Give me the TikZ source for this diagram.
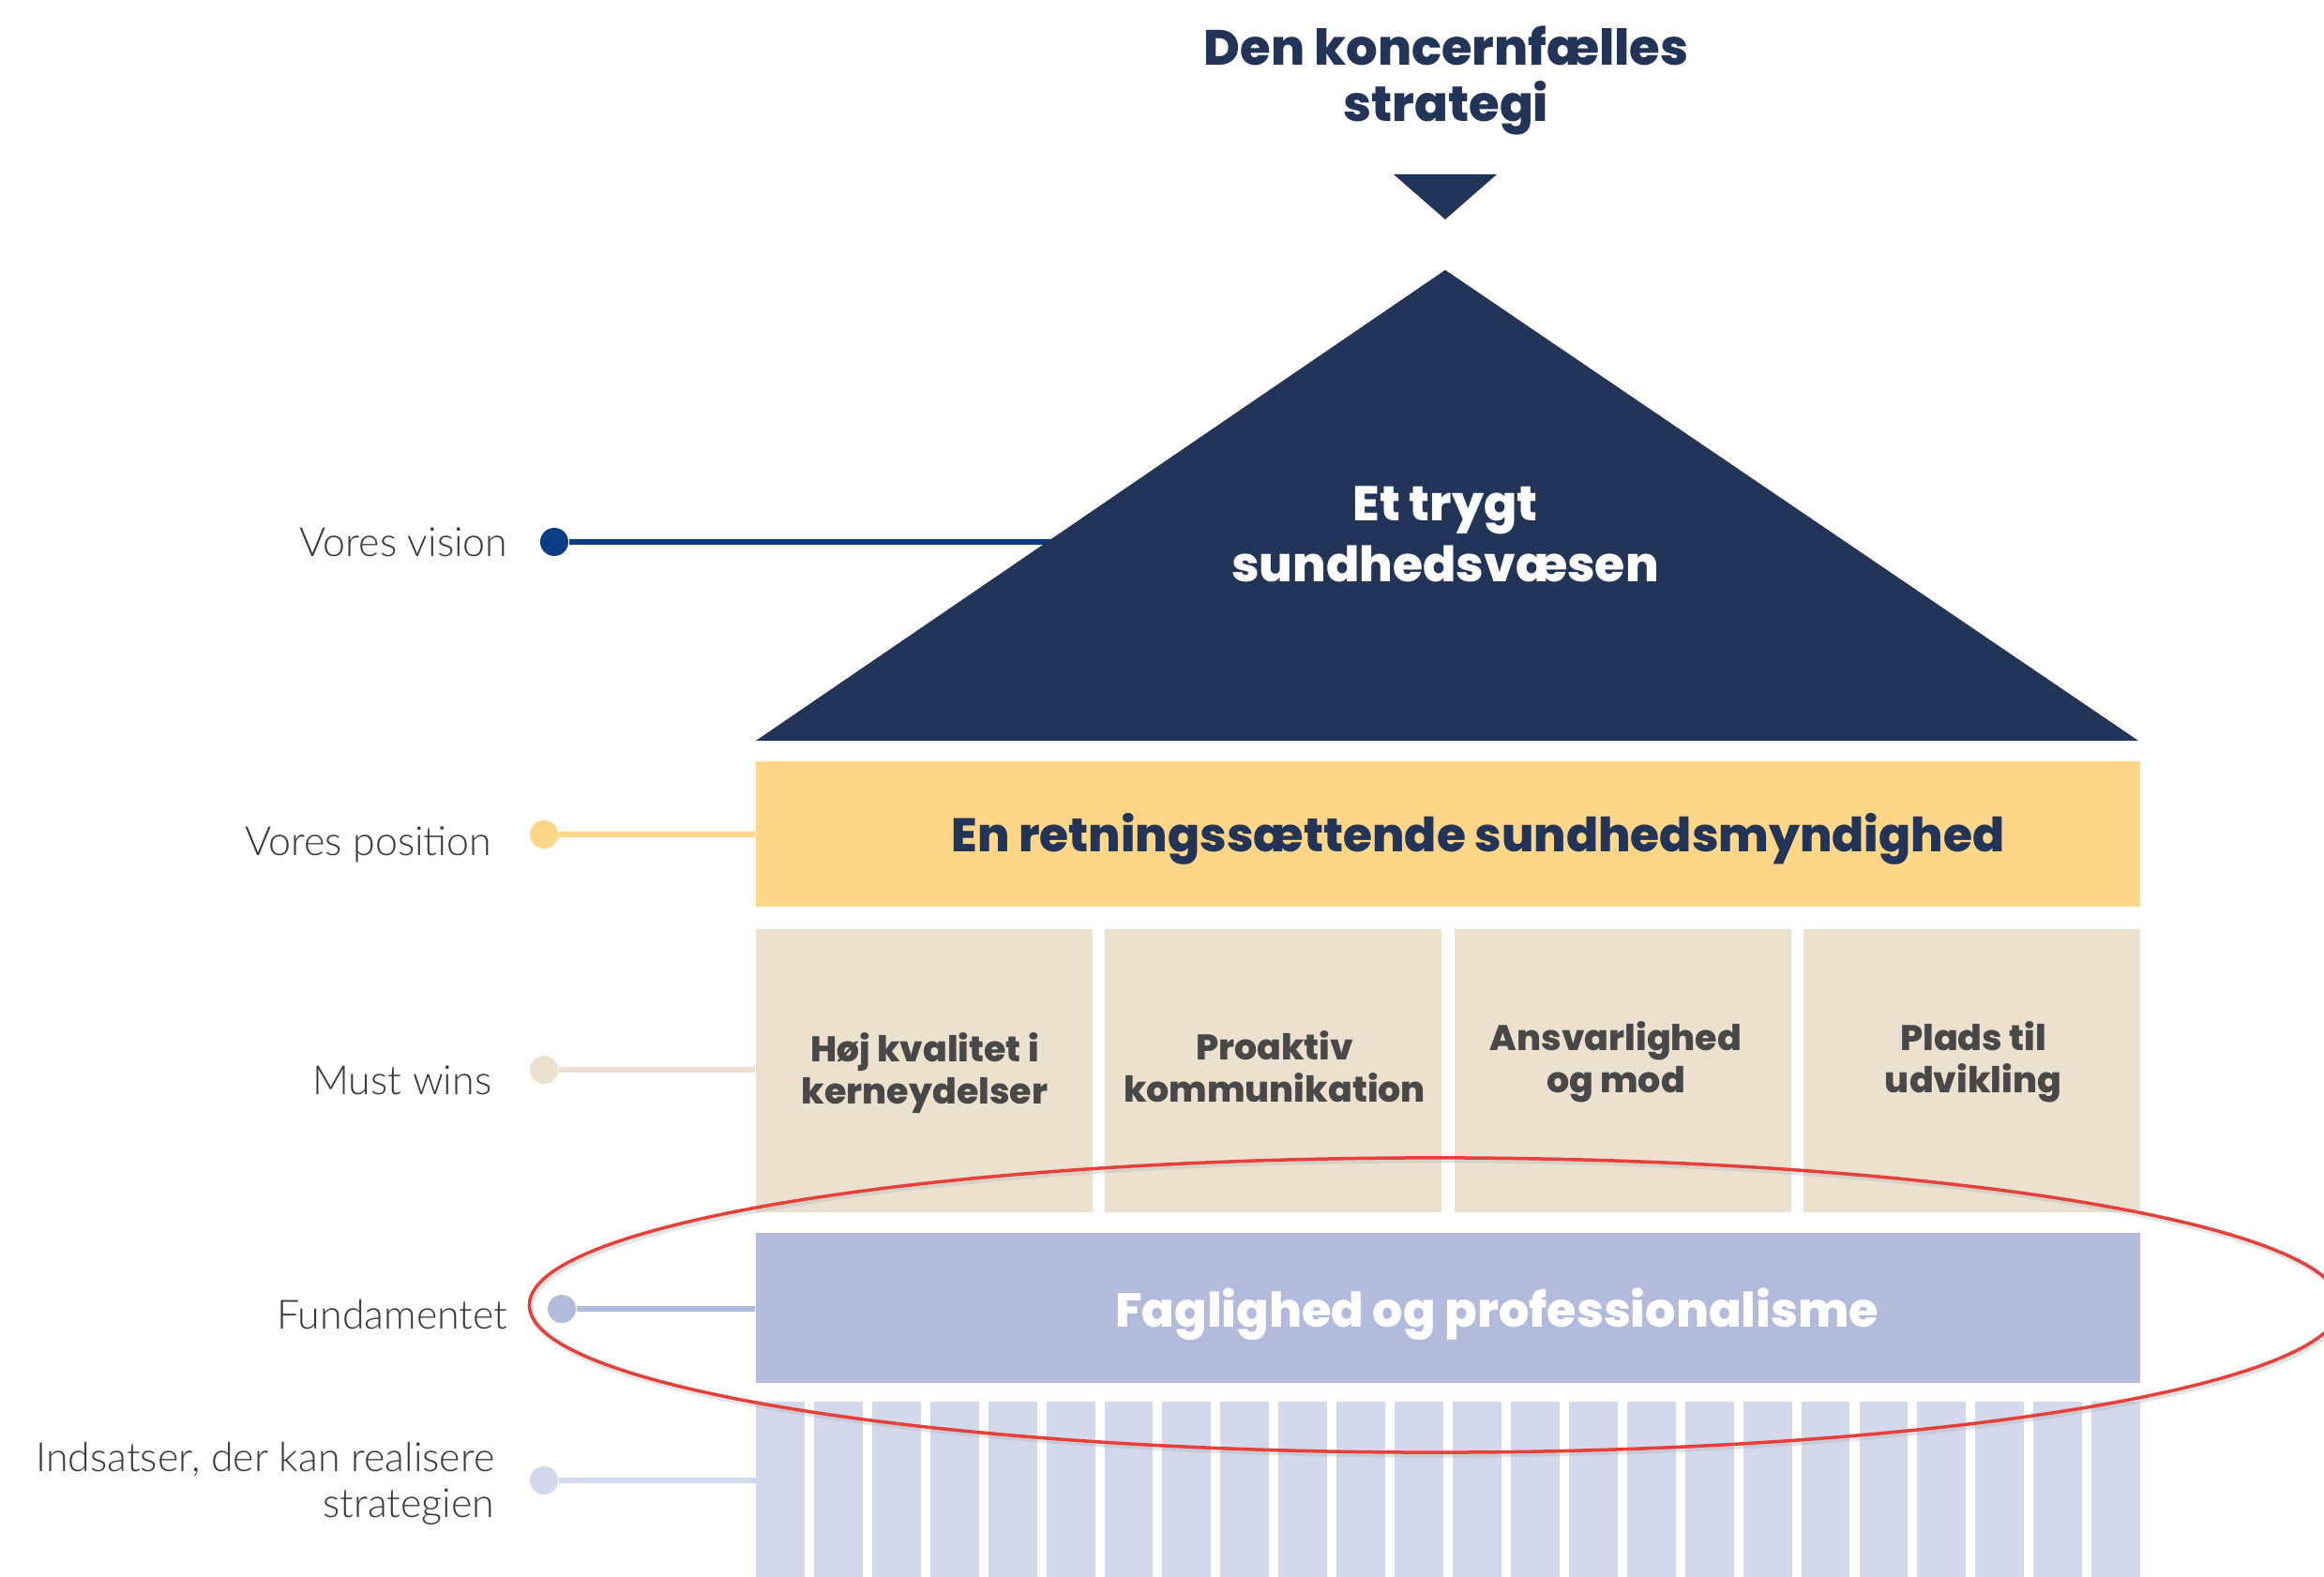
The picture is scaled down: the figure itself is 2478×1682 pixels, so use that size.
\documentclass[tikz,border=0pt]{standalone}
\usepackage{fontspec}
\newfontfamily\headfont{Poppins}[BoldFont={Poppins ExtraBold}]
\newfontfamily\labfont{Lato Light}
\definecolor{navy}{HTML}{233459}
\definecolor{visblue}{HTML}{0B3D86}
\definecolor{posyel}{HTML}{FDD688}
\definecolor{mustbg}{HTML}{EBE1CE}
\definecolor{fundbg}{HTML}{B2BBDB}
\definecolor{stripe}{HTML}{D3D8EA}
\definecolor{musttxt}{HTML}{484848}
\definecolor{labtxt}{HTML}{383838}
\definecolor{ellred}{HTML}{E5403A}
\tikzset{
  lab/.style={anchor=east, font=\labfont\fontsize{12.2}{14}\selectfont, text=labtxt, align=right, inner sep=0pt},
  dotnode/.style={circle, inner sep=0pt, minimum size=0.30cm},
  barbox/.style={rectangle, inner sep=0pt, minimum width=14.76cm},
  mustbox/.style={rectangle, fill=mustbg, inner sep=0pt, minimum width=3.585cm, minimum height=3.02cm},
  musttext/.style={align=center, inner sep=0pt, font=\headfont\bfseries\fontsize{10.8}{12.8}\selectfont, text=musttxt},
  conn/.style={line width=0.06cm},
}
\begin{document}
\begin{tikzpicture}[x=0.01cm, y=-0.01cm]
\useasboundingbox[fill=white] (0,0) rectangle (2478,1682);

% title
\node[align=center, text=navy, font=\headfont\bfseries\fontsize{15}{17}\selectfont, inner sep=0pt] (title) at (1542,86) {Den koncernfælles\\strategi};
\fill[navy] (1486,186) -- (1596,186) -- (1541,234) -- cycle;

% vision connector (behind roof)
\node[dotnode, fill=visblue] (visdot) at (591,578) {};
\coordinate (visend) at (1200,578);
\draw[conn, visblue] (visdot) -- (visend);

% roof
\fill[navy] (1541,288) -- (806,790) -- (2280,790) -- cycle;
\node[align=center, text=white, font=\headfont\bfseries\fontsize{14.8}{18.5}\selectfont, inner sep=0pt] (vision) at (1541,570) {Et trygt\\sundhedsvæsen};

% position bar
\node[barbox, fill=posyel, minimum height=1.55cm] (pos) at (1544,889.5) {};
\node[text=navy, inner sep=0pt, font=\headfont\bfseries\fontsize{14.3}{17}\selectfont] (postext) at (1576,895) {En retningssættende sundhedsmyndighed};

% must wins
\node[mustbox] (m1) at (985.25,1142) {};
\node[mustbox] (m2) at (1357.75,1142) {};
\node[mustbox] (m3) at (1730.25,1142) {};
\node[mustbox] (m4) at (2102.75,1142) {};
\node[musttext] (m1t) at (986,1145) {Høj kvalitet i\\kerneydelser};
\node[musttext] (m2t) at (1359,1138) {Proaktiv\\kommunikation};
\node[musttext] (m3t) at (1723,1133) {Ansvarlighed\\og mod};
\node[musttext] (m4t) at (2104,1133) {Plads til\\udvikling};

% fundamentet
\node[barbox, fill=fundbg, minimum height=1.60cm] (fund) at (1544,1395) {};
\node[text=white, inner sep=0pt, font=\headfont\bfseries\fontsize{14.5}{17}\selectfont] (fundtext) at (1596,1402) {Faglighed og professionalisme};

% stripes
\foreach \i in {0,...,23} {
  \fill[stripe] ({806+\i*61.92},1495) rectangle ({806+\i*61.92+51.9},1682);
}
\coordinate (stripesleft) at (806,1579);

% labels and connectors
\node[lab] (lvis) at (542,578) {Vores vision};

\node[dotnode, fill=posyel] (posdot) at (580,890) {};
\draw[conn, posyel] (posdot) -- (pos.west |- posdot);
\node[lab] (lpos) at (525,901) {Vores position};

\node[dotnode, fill=mustbg] (mustdot) at (580,1141) {};
\draw[conn, mustbg] (mustdot) -- (m1.west |- mustdot);
\node[lab] (lmust) at (525,1152) {Must wins};

\node[dotnode, fill=fundbg] (funddot) at (599,1396) {};
\draw[conn, fundbg] (funddot) -- (fund.west |- funddot);
\node[lab] (lfund) at (542,1402) {Fundamentet};

\node[dotnode, fill=stripe] (inddot) at (580,1579) {};
\draw[conn, stripe] (inddot) -- (stripesleft);
\node[lab, align=right] (lind) at (528,1582) {Indsatser, der kan realisere\\strategien};

% red ellipse with soft shadow
\draw[black!30, opacity=0.35, line width=0.05cm] (1532,1395) ellipse [x radius=9.65cm, y radius=1.57cm];
\draw[ellred, line width=0.035cm] (1530,1392) ellipse [x radius=9.65cm, y radius=1.57cm];
\end{tikzpicture}
\end{document}
